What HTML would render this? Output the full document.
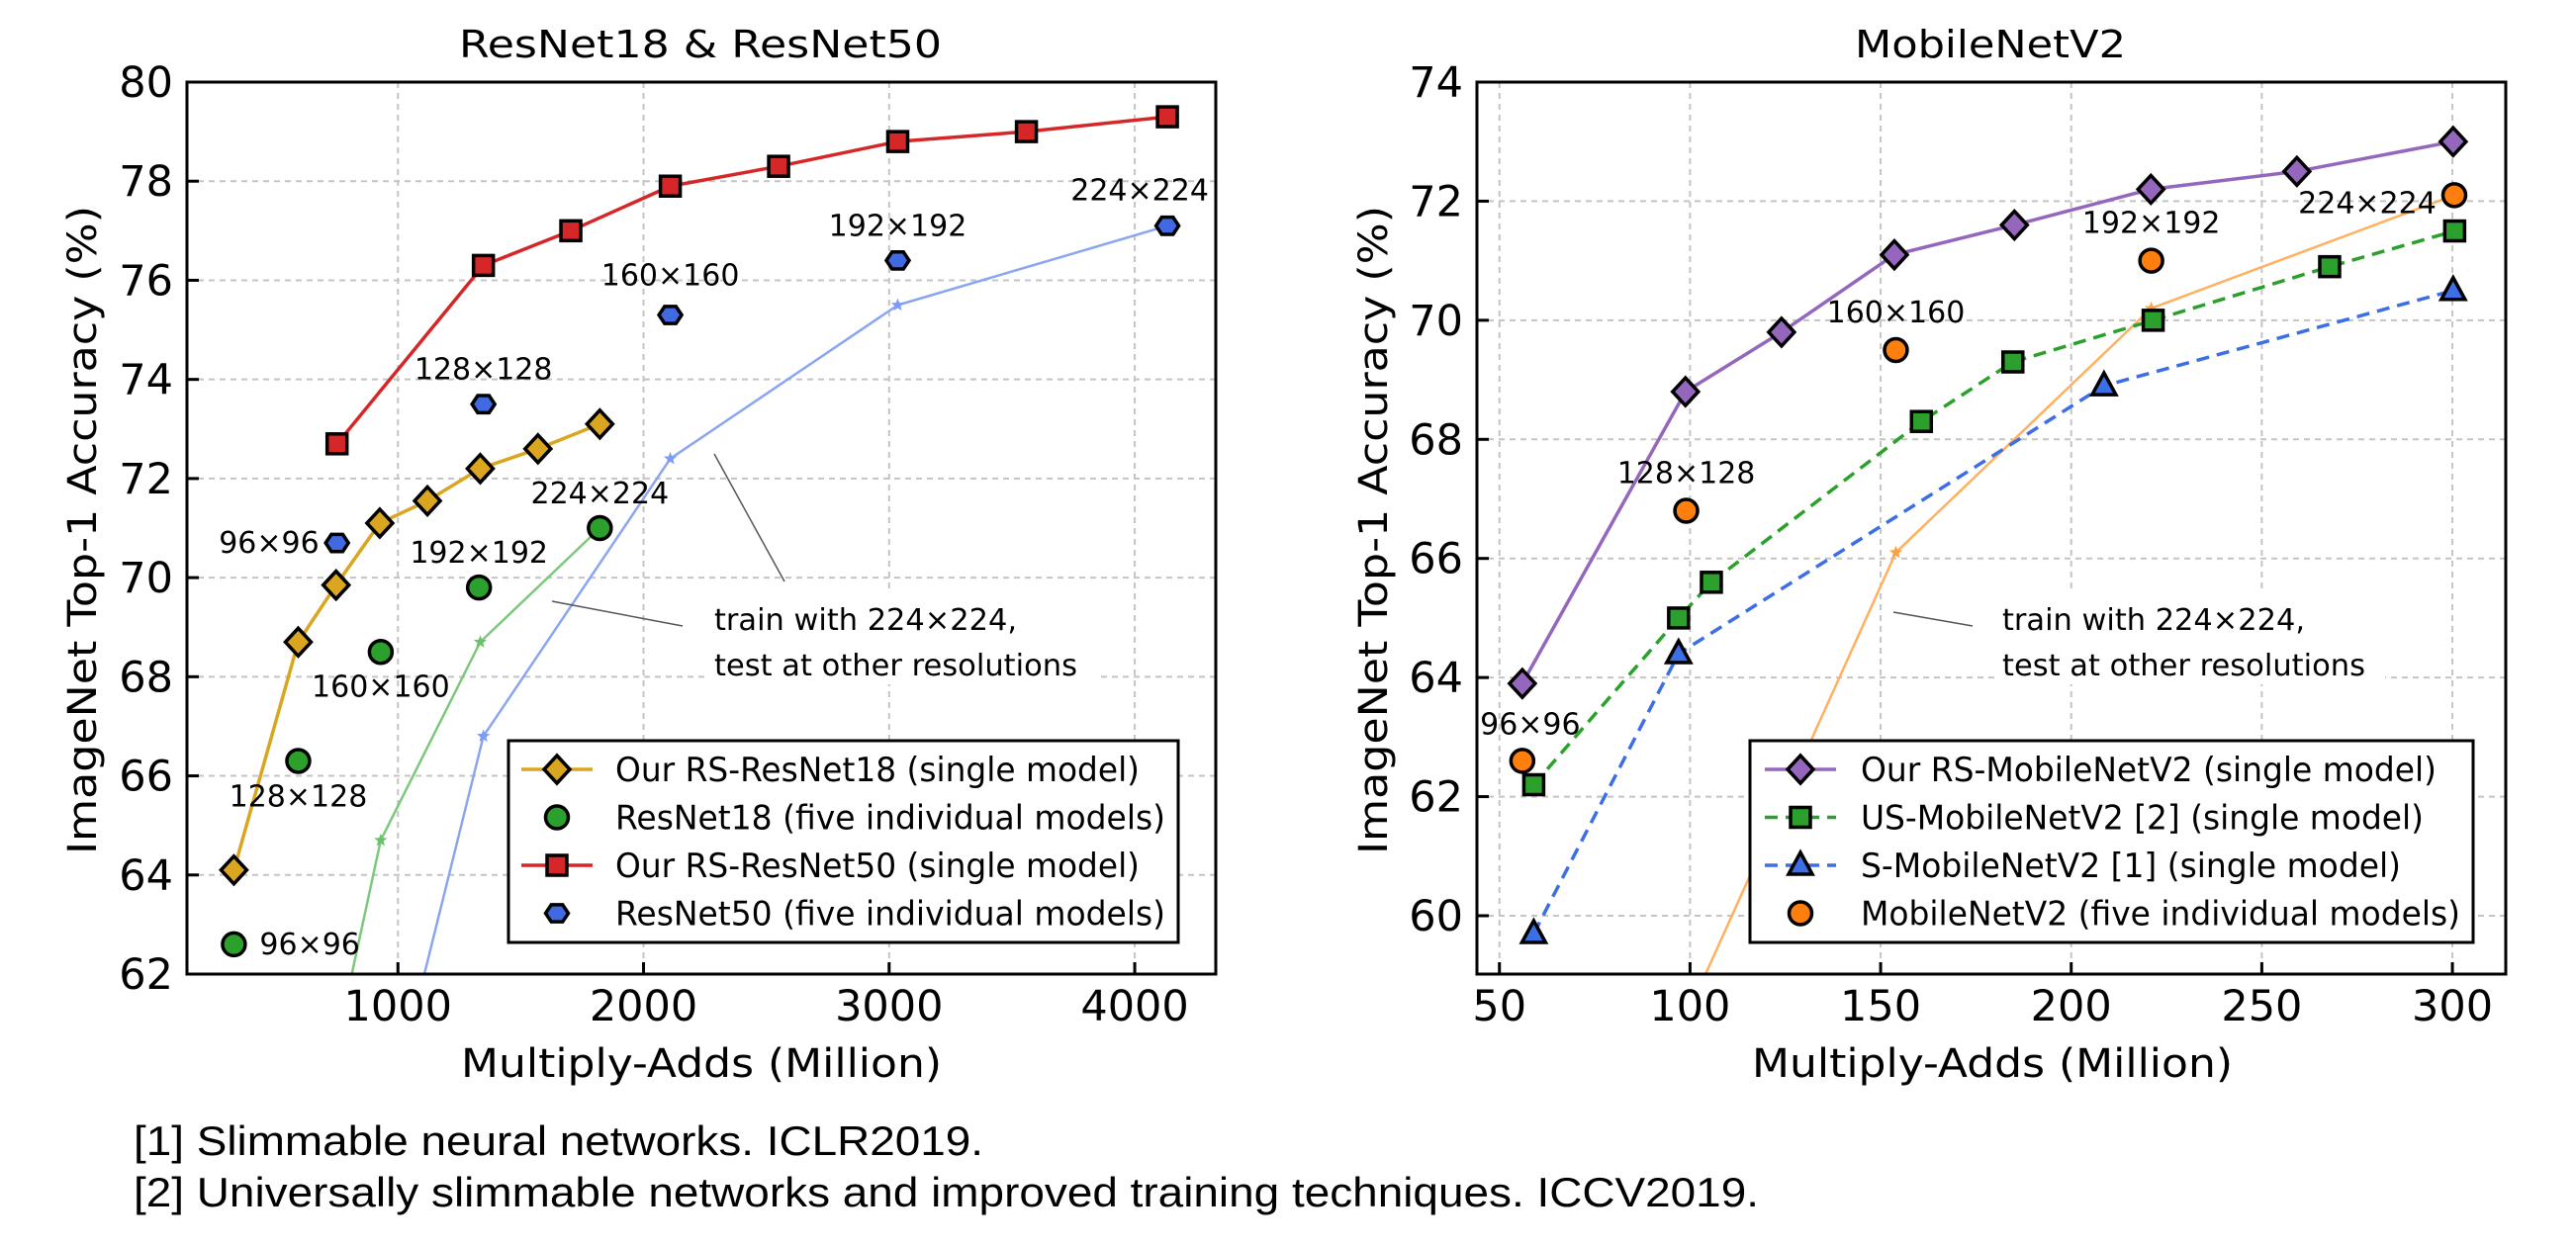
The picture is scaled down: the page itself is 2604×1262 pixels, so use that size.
<!DOCTYPE html>
<html><head><meta charset="utf-8">
<style>
html,body{margin:0;padding:0;background:#fff;width:2604px;height:1262px;overflow:hidden;}
svg{display:block;}
text{font-family:"DejaVu Sans","Liberation Sans",sans-serif;fill:#000;}
.foot{font-family:"Liberation Sans",Arial,sans-serif;}
</style></head>
<body>
<svg id="chart" width="2604" height="1262" viewBox="0 0 2604 1262" xmlns="http://www.w3.org/2000/svg">
<text class="foot" x="135" y="1168" font-size="42" textLength="859" lengthAdjust="spacingAndGlyphs">[1] Slimmable neural networks. ICLR2019.</text>
<text class="foot" x="135" y="1220" font-size="42" textLength="1643" lengthAdjust="spacingAndGlyphs">[2] Universally slimmable networks and improved training techniques. ICCV2019.</text>
</svg>
<script>
// ---------- Left chart data ----------
const xTicksL = [1000, 2000, 3000, 4000];
const yTicksL = [62, 64, 66, 68, 70, 72, 74, 76, 78, 80];
const rs18X = [332, 594, 748, 926, 1120, 1335, 1570, 1822];
const rs18Y = [64.1, 68.7, 69.85, 71.1, 71.55, 72.2, 72.6, 73.1];
const r18X = [332, 594, 930, 1330, 1822];
const r18Y = [62.6, 66.3, 68.5, 69.8, 71.0];
const r18TestX = [594, 930, 1335, 1822];
const r18TestY = [57.0, 64.7, 68.7, 71.0];
const rs50X = [752, 1348, 1704, 2109, 2550, 3035, 3559, 4133];
const rs50Y = [72.7, 76.3, 77.0, 77.9, 78.3, 78.8, 79.0, 79.3];
const r50X = [752, 1348, 2109, 3035, 4133];
const r50Y = [70.7, 73.5, 75.3, 76.4, 77.1];
const r50TestX = [752, 1348, 2109, 3035, 4133];
const r50TestY = [54.9, 66.8, 72.4, 75.5, 77.1];
const resLabels = ["96×96", "128×128", "160×160", "192×192", "224×224"];

// ---------- Right chart data ----------
const xTicksR = [50, 100, 150, 200, 250, 300];
const yTicksR = [60, 62, 64, 66, 68, 70, 72, 74];
const rsMbX = [56, 98.8, 124, 153.6, 185.1, 220.9, 259.2, 300.2];
const rsMbY = [63.9, 68.8, 69.8, 71.1, 71.6, 72.2, 72.5, 73.0];
const usMbX = [59, 97, 105.6, 160.7, 184.7, 221.5, 267.8, 300.6];
const usMbY = [62.2, 65.0, 65.6, 68.3, 69.3, 70.0, 70.9, 71.5];
const sMbX = [59, 97, 208.6, 300.2];
const sMbY = [59.7, 64.4, 68.9, 70.5];
const mbX = [56, 99, 154, 221, 300.5];
const mbY = [62.6, 66.8, 69.5, 71.0, 72.1];
const mbTestX = [99, 154, 221, 300.5];
const mbTestY = [58.3, 66.1, 70.2, 72.1];

const NS = "http://www.w3.org/2000/svg";
const svg = document.getElementById('chart');
function mk(tag, attrs, parent) {
  const e = document.createElementNS(NS, tag);
  for (const k in attrs) e.setAttribute(k, attrs[k]);
  (parent || svg).appendChild(e);
  return e;
}
function txt(s, attrs, parent) { const t = mk('text', attrs, parent); t.textContent = s; return t; }

function marker(type, cx, cy, fill, g) {
  let e;
  if (type === 'diamond') e = mk('polygon', {points: `${cx},${cy-14} ${cx+13},${cy} ${cx},${cy+14} ${cx-13},${cy}`}, g);
  else if (type === 'square') e = mk('rect', {x: cx-10, y: cy-10, width: 20, height: 20}, g);
  else if (type === 'circle') e = mk('circle', {cx: cx, cy: cy, r: 11.5}, g);
  else if (type === 'hex') { const p=[]; for (let i=0;i<6;i++){const a=Math.PI/3*i; p.push((cx+11.5*Math.cos(a))+','+(cy+10*Math.sin(a)));} e = mk('polygon', {points: p.join(' ')}, g); }
  else if (type === 'tri') e = mk('polygon', {points: `${cx},${cy-13} ${cx+12},${cy+9} ${cx-12},${cy+9}`}, g);
  else if (type === 'star') { const p=[]; for (let i=0;i<10;i++){const a=-Math.PI/2+Math.PI/5*i; const r=i%2?3:7; p.push((cx+r*Math.cos(a))+','+(cy+r*Math.sin(a)));} e = mk('polygon', {points: p.join(' ')}, g); e.setAttribute('fill', fill); return e; }
  e.setAttribute('fill', fill); e.setAttribute('stroke', '#000'); e.setAttribute('stroke-width', '3.5');
  return e;
}

function drawAxes(cfg) {
  const g = mk('g', {});
  
  
  const clipId = cfg.name + '-clip';
  const cp = mk('clipPath', {id: clipId}, g);
  mk('rect', {x: cfg.L, y: cfg.T, width: cfg.R - cfg.L, height: cfg.B - cfg.T}, cp);
  const sx = v => cfg.L + (v - cfg.x0) / (cfg.x1 - cfg.x0) * (cfg.R - cfg.L);
  const sy = v => cfg.B - (v - cfg.y0) / (cfg.y1 - cfg.y0) * (cfg.B - cfg.T);
  cfg.xTicks.forEach(v => {
    const l = mk('line', {x1: sx(v), x2: sx(v), y1: cfg.T, y2: cfg.B, stroke: '#c4c4c4', 'stroke-width': 2, 'stroke-dasharray': '6 5'}, g);
     
  });
  cfg.yTicks.forEach(v => {
    const l = mk('line', {x1: cfg.L, x2: cfg.R, y1: sy(v), y2: sy(v), stroke: '#c4c4c4', 'stroke-width': 2, 'stroke-dasharray': '6 5'}, g);
     
  });
  const plot = mk('g', {'clip-path': `url(#${clipId})`}, g);
   
  cfg.xTicks.forEach(v => {
    mk('line', {x1: sx(v), x2: sx(v), y1: cfg.B, y2: cfg.B - 12, stroke: '#000', 'stroke-width': 3}, g);
    const t = txt(String(v), {x: sx(v), y: cfg.B + 47, 'font-size': 43, 'text-anchor': 'middle'}, g);
     
  });
  cfg.yTicks.forEach(v => {
    mk('line', {x1: cfg.L, x2: cfg.L + 12, y1: sy(v), y2: sy(v), stroke: '#000', 'stroke-width': 3}, g);
    const t = txt(String(v), {x: cfg.L - 14, y: sy(v) + 15, 'font-size': 43, 'text-anchor': 'end'}, g);
     
  });
  const fr = mk('rect', {x: cfg.L, y: cfg.T, width: cfg.R - cfg.L, height: cfg.B - cfg.T, fill: 'none', stroke: '#000', 'stroke-width': 3}, g);
   
  const title = txt(cfg.title, {x: cfg.tx, y: 58, 'font-size': 38, 'text-anchor': 'middle', textLength: cfg.tw, lengthAdjust: 'spacingAndGlyphs'}, g);
   
  const xl = txt('Multiply-Adds (Million)', {x: cfg.xlx, y: 1089, 'font-size': 40, 'text-anchor': 'middle', textLength: 486, lengthAdjust: 'spacingAndGlyphs'}, g);
   
  const yl = txt('ImageNet Top-1 Accuracy (%)', {x: 0, y: 0, 'font-size': 40, 'text-anchor': 'middle', textLength: 656, lengthAdjust: 'spacingAndGlyphs', transform: `translate(${cfg.ylx},536) rotate(-90)`}, g);
   
  return {g, plot, sx, sy};
}

function series(ax, xs, ys, opts, name) {
  const g = mk('g', {}, ax.plot);
  
  
  if (opts.line) {
    const pts = xs.map((x, i) => ax.sx(x) + ',' + ax.sy(ys[i])).join(' ');
    const pl = mk('polyline', {points: pts, fill: 'none', stroke: opts.line, 'stroke-width': opts.lw || 3.5, 'stroke-dasharray': opts.dash || 'none', 'stroke-linejoin': 'round'}, g);
     
  }
  if (opts.marker) xs.forEach((x, i) => {
    const m = marker(opts.marker, ax.sx(x), ax.sy(ys[i]), opts.fill, g);
     
  });
}

function label(ax, s, x, y, dx, dy, anchor) {
  const t = txt(s, {x: ax.sx(x) + dx, y: ax.sy(y) + dy, 'font-size': 30, 'text-anchor': anchor || 'middle'}, ax.g);
   
}

function legend(ax, x, y, w, h, entries, markerX, textX) {
  const g = mk('g', {}, ax.g);
   
  mk('rect', {x, y, width: w, height: h, fill: '#fff', stroke: '#000', 'stroke-width': 3}, g);
  entries.forEach((e, i) => {
    const ry = y + 29 + i * 48.5;
    const eg = mk('g', {}, g);
     
    if (e.line) mk('line', {x1: markerX - 36, x2: markerX + 36, y1: ry, y2: ry, stroke: e.line, 'stroke-width': 3.5, 'stroke-dasharray': e.dash || 'none'}, eg);
    marker(e.marker, markerX, ry, e.fill, eg);
    txt(e.text, {x: textX, y: ry + 12, 'font-size': 34, textLength: e.w, lengthAdjust: 'spacingAndGlyphs'}, eg);
  });
}

function annotation(ax, lx, ly, lines) {
  const g = mk('g', {}, ax.g);
   
  lines.forEach(l => mk('line', {x1: l[0], y1: l[1], x2: l[2], y2: l[3], stroke: '#555', 'stroke-width': 1.5}, g));
  mk('rect', {x: lx - 8, y: 596, width: 395, height: 96, fill: '#fff'}, g);
  txt('train with 224×224,', {x: lx, y: 637, 'font-size': 30, textLength: 306, lengthAdjust: 'spacingAndGlyphs'}, g);
  txt('test at other resolutions', {x: lx, y: 683, 'font-size': 30, textLength: 367, lengthAdjust: 'spacingAndGlyphs'}, g);
}

// ---------- Left chart ----------
const axL = drawAxes({name: 'resnet-chart', L: 189, R: 1229, T: 83, B: 985, x0: 141, x1: 4330, y0: 62, y1: 80,
  xTicks: xTicksL, yTicks: yTicksL, title: 'ResNet18 & ResNet50', tx: 708, tw: 488, xlx: 709, ylx: 97});
annotation(axL, 722, 0, [[558, 608, 690, 633], [722, 459, 793, 588]]);
series(axL, r18TestX, r18TestY, {line: '#7dc87d', lw: 2.5, marker: 'star', fill: '#6cc26c'}, 'resnet18-test-res');
series(axL, r50TestX, r50TestY, {line: '#8aa6f0', lw: 2.5, marker: 'star', fill: '#7e9cf0'}, 'resnet50-test-res');
series(axL, rs18X, rs18Y, {line: '#DAA520', marker: 'diamond', fill: '#DAA520'}, 'rs-resnet18');
series(axL, r18X, r18Y, {marker: 'circle', fill: '#2ca02c'}, 'resnet18');
series(axL, rs50X, rs50Y, {line: '#d62728', marker: 'square', fill: '#d62728'}, 'rs-resnet50');
series(axL, r50X, r50Y, {marker: 'hex', fill: '#4169e1'}, 'resnet50');
label(axL, resLabels[0], r50X[0], r50Y[0], -18, 10, 'end');
label(axL, resLabels[1], r50X[1], r50Y[1], 0, -25);
label(axL, resLabels[2], r50X[2], r50Y[2], 0, -30);
label(axL, resLabels[3], r50X[3], r50Y[3], 0, -25);
label(axL, resLabels[4], r50X[4], r50Y[4], -28, -26);
label(axL, resLabels[0], r18X[0], r18Y[0], 26, 10, 'start');
label(axL, resLabels[1], r18X[1], r18Y[1], 0, 46);
label(axL, resLabels[2], r18X[2], r18Y[2], 0, 45);
label(axL, resLabels[3], r18X[3], r18Y[3], 0, -25);
label(axL, resLabels[4], r18X[4], r18Y[4], 0, -25);
legend(axL, 514, 749, 677, 204, [
  {line: '#DAA520', marker: 'diamond', fill: '#DAA520', text: 'Our RS-ResNet18 (single model)', w: 530},
  {marker: 'circle', fill: '#2ca02c', text: 'ResNet18 (five individual models)', w: 556},
  {line: '#d62728', marker: 'square', fill: '#d62728', text: 'Our RS-ResNet50 (single model)', w: 530},
  {marker: 'hex', fill: '#4169e1', text: 'ResNet50 (five individual models)', w: 556}
], 563, 622);

// ---------- Right chart ----------
const axR = drawAxes({name: 'mobilenet-chart', L: 1493, R: 2533, T: 83, B: 985, x0: 44.1, x1: 314, y0: 59.02, y1: 74,
  xTicks: xTicksR, yTicks: yTicksR, title: 'MobileNetV2', tx: 2012, tw: 274, xlx: 2014, ylx: 1402});
annotation(axR, 2024, 0, [[1914, 619, 1994, 633]]);
series(axR, mbTestX, mbTestY, {line: '#ffb060', lw: 2.5, marker: 'star', fill: '#ffa040'}, 'mobilenet-test-res');
series(axR, sMbX, sMbY, {line: '#3c6fe6', dash: '13 8', marker: 'tri', fill: '#3c6fe6'}, 's-mobilenetv2');
series(axR, usMbX, usMbY, {line: '#2ca02c', dash: '13 8', marker: 'square', fill: '#2ca02c'}, 'us-mobilenetv2');
series(axR, rsMbX, rsMbY, {line: '#9467bd', marker: 'diamond', fill: '#9467bd'}, 'rs-mobilenetv2');
series(axR, mbX, mbY, {marker: 'circle', fill: '#ff7f0e'}, 'mobilenetv2');
label(axR, resLabels[0], mbX[0], mbY[0], 8, -27);
label(axR, resLabels[1], mbX[1], mbY[1], 0, -28);
label(axR, resLabels[2], mbX[2], mbY[2], 0, -28);
label(axR, resLabels[3], mbX[3], mbY[3], 0, -28);
label(axR, resLabels[4], mbX[4], mbY[4], -88, 18);
legend(axR, 1769, 749, 731, 204, [
  {line: '#9467bd', marker: 'diamond', fill: '#9467bd', text: 'Our RS-MobileNetV2 (single model)', w: 582},
  {line: '#2ca02c', dash: '13 8', marker: 'square', fill: '#2ca02c', text: 'US-MobileNetV2 [2] (single model)', w: 569},
  {line: '#3c6fe6', dash: '13 8', marker: 'tri', fill: '#3c6fe6', text: 'S-MobileNetV2 [1] (single model)', w: 546},
  {marker: 'circle', fill: '#ff7f0e', text: 'MobileNetV2 (five individual models)', w: 606}
], 1820, 1881);
</script>
</body></html>
